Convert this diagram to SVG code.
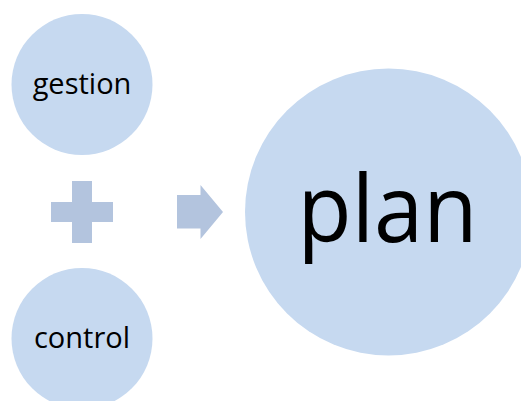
<svg xmlns="http://www.w3.org/2000/svg" width="521" height="401" viewBox="0 0 521 401">
  <style>
    .node { fill: #c6d9f0; }
    .sym { fill: #b3c4de; }
    .lbl { font-family: "Open Sans", "Noto Sans", sans-serif; fill: #000; text-anchor: middle; }
  </style>
  <rect width="521" height="401" fill="#ffffff"/>
  <g id="gestion">
    <circle class="node" cx="82" cy="84.5" r="70.5"/>
    <text class="lbl" x="82" y="94" font-size="29">gestion</text>
  </g>
  <g id="control">
    <circle class="node" cx="82" cy="338.5" r="70.5"/>
    <text class="lbl" x="82" y="348" font-size="29">control</text>
  </g>
  <g id="plan">
    <circle class="node" cx="388.5" cy="212" r="143.5"/>
    <text class="lbl" x="387.5" y="241.5" font-size="94" textLength="180" lengthAdjust="spacingAndGlyphs">plan</text>
  </g>
  <g id="connectors">
    <!-- plus sign -->
    <path class="sym" d="M72 181H92V202H113V222H92V243H72V222H51V202H72Z"/>
    <!-- block arrow -->
    <path class="sym" d="M177 195H200.5V185L223 212L200.5 239V228.5H177Z"/>
  </g>
</svg>
